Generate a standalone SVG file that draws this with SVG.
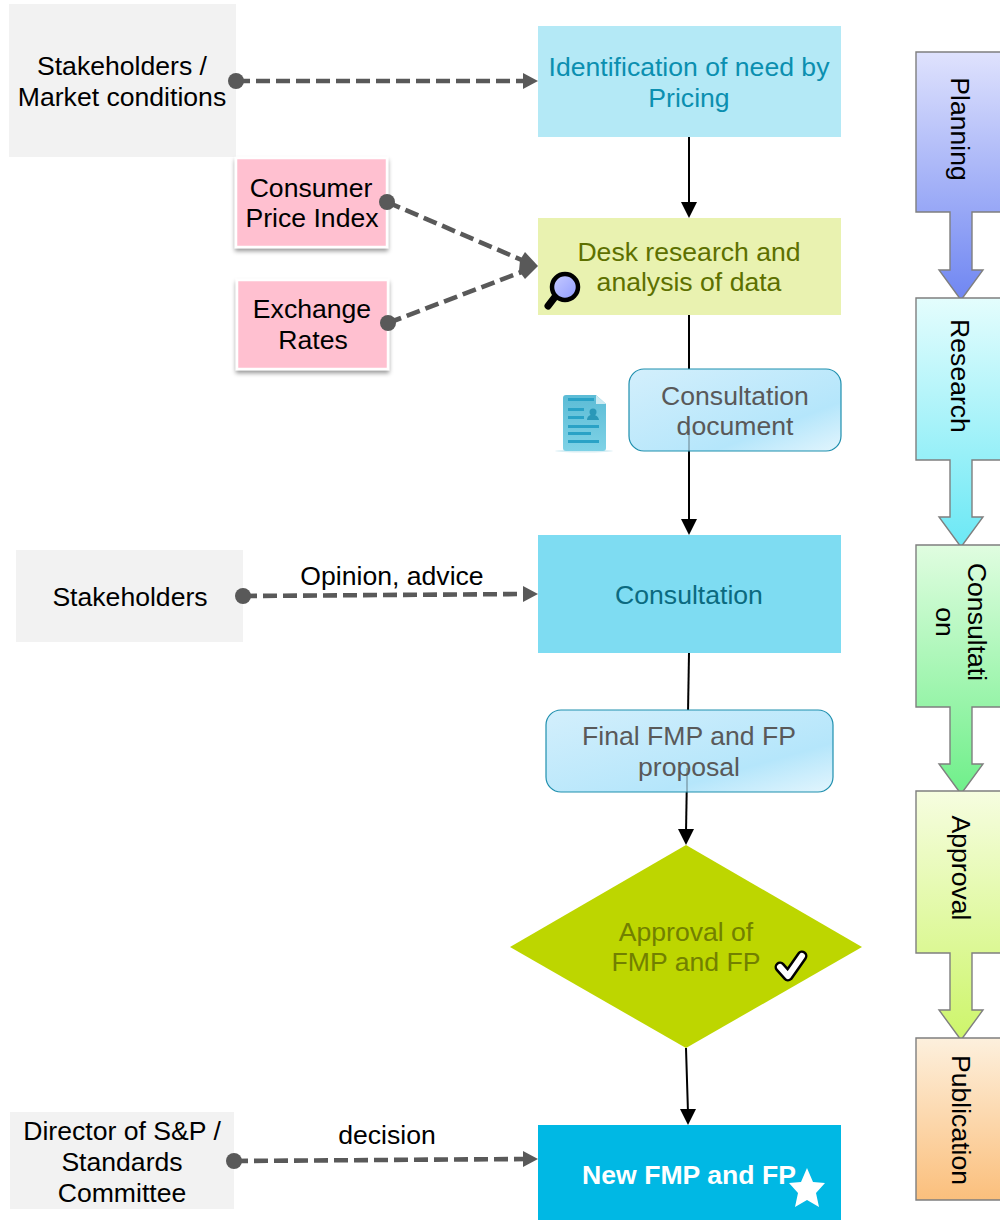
<svg xmlns="http://www.w3.org/2000/svg" width="1000" height="1220" viewBox="0 0 1000 1220">
<style>
text{font-family:"Liberation Sans",Arial,sans-serif;font-size:26.6px;text-anchor:middle;fill:#000}
.grey{fill:#f2f2f2}
.pink{fill:#ffc0d0;stroke:#fff;stroke-width:2.5;filter:url(#sh)}
.dash{fill:none;stroke:#595959;stroke-width:4.6;stroke-dasharray:14 6}
.solid{fill:none;stroke:#000;stroke-width:2}
.doc{stroke:#1f8fae;stroke-width:1.2;fill:url(#docg)}
.side{stroke:#7f7f7f;stroke-width:1.4}
.dot{fill:#595959}
.hd{fill:#595959}
.hb{fill:#000}
.through{stroke:#000;stroke-width:2;opacity:.22}
</style>
<defs>
<filter id="sh" x="-10%" y="-10%" width="120%" height="125%"><feDropShadow dx="0" dy="3" stdDeviation="2" flood-color="#000" flood-opacity="0.4"/></filter>
<linearGradient id="docg" x1="0" y1="0" x2="1" y2="1"><stop offset="0" stop-color="#d3effc"/><stop offset="0.7" stop-color="#b5e6fb"/><stop offset="1" stop-color="#e2f5fd"/></linearGradient>
<linearGradient id="gp" gradientUnits="userSpaceOnUse" x1="0" y1="52" x2="0" y2="300"><stop offset="0" stop-color="#dfe2fd"/><stop offset="1" stop-color="#6f86f2"/></linearGradient>
<linearGradient id="gr" gradientUnits="userSpaceOnUse" x1="0" y1="298" x2="0" y2="547"><stop offset="0" stop-color="#e4fdfd"/><stop offset="1" stop-color="#6be8f5"/></linearGradient>
<linearGradient id="gc" gradientUnits="userSpaceOnUse" x1="0" y1="545" x2="0" y2="793"><stop offset="0" stop-color="#e0fde0"/><stop offset="1" stop-color="#6fef8a"/></linearGradient>
<linearGradient id="ga" gradientUnits="userSpaceOnUse" x1="0" y1="791" x2="0" y2="1040"><stop offset="0" stop-color="#f6fde0"/><stop offset="1" stop-color="#cdf56a"/></linearGradient>
<linearGradient id="gu" x1="0" y1="0" x2="0" y2="1"><stop offset="0" stop-color="#fdf0dd"/><stop offset="1" stop-color="#fbbf7c"/></linearGradient>
<linearGradient id="mg" x1="0" y1="0" x2="1" y2="1"><stop offset="0" stop-color="#c8ccff"/><stop offset="1" stop-color="#8f9bff"/></linearGradient>
<linearGradient id="ic" x1="0" y1="0" x2="0" y2="1"><stop offset="0" stop-color="#5cbcd6"/><stop offset="1" stop-color="#7fd2e6"/></linearGradient>
</defs>

<g id="stakeholders-market"><rect class="grey" x="9" y="4" width="227" height="153"/><text x="122" y="75">Stakeholders /</text><text x="122" y="106">Market conditions</text></g>
<g id="cpi"><rect class="pink" x="236" y="158" width="151" height="89"/><text x="311" y="197">Consumer</text><text x="312" y="227">Price Index</text></g>
<g id="exchange"><rect class="pink" x="237" y="280" width="151" height="89"/><text x="312" y="318">Exchange</text><text x="313" y="349">Rates</text></g>
<g id="stakeholders"><rect class="grey" x="16" y="550" width="227" height="92"/><text x="130" y="606">Stakeholders</text></g>
<g id="director"><rect class="grey" x="10" y="1112" width="224" height="97"/><text x="122" y="1140">Director of S&amp;P /</text><text x="122" y="1171">Standards</text><text x="122" y="1202">Committee</text></g>

<g id="identification"><rect x="538" y="26" width="303" height="111" fill="#b4e9f6"/><text x="689" y="76" style="fill:#0b8fb0">Identification of need by</text><text x="689" y="107" style="fill:#0b8fb0">Pricing</text></g>
<g id="desk"><rect x="538" y="218" width="303" height="97" fill="#e9f2b0"/><text x="689" y="261" style="fill:#5d7000">Desk research and</text><text x="689" y="291" style="fill:#5d7000">analysis of data</text>
<line x1="548" y1="306" x2="558" y2="293" stroke="#000" stroke-width="7" stroke-linecap="round"/><circle cx="565" cy="287" r="13" fill="url(#mg)" stroke="#000" stroke-width="4.5"/></g>

<g id="connectors">
<line class="dash" x1="236" y1="81" x2="526" y2="81"/>
<line class="dash" x1="387" y1="202" x2="524" y2="261"/>
<line class="dash" x1="388" y1="323" x2="524" y2="271"/>
<line class="dash" x1="243" y1="596" x2="526" y2="594"/>
<line class="dash" x1="234" y1="1161" x2="526" y2="1159"/>
<line class="solid" x1="689" y1="137" x2="689" y2="205"/>
<line class="solid" x1="689" y1="315" x2="689" y2="523"/>
<line class="solid" x1="689" y1="653" x2="686" y2="833"/>
<line class="solid" x1="686" y1="1048" x2="688" y2="1113"/>
<circle class="dot" cx="236" cy="81" r="8"/>
<circle class="dot" cx="387" cy="202" r="8"/>
<circle class="dot" cx="388" cy="323" r="8"/>
<circle class="dot" cx="243" cy="596" r="8"/>
<circle class="dot" cx="234" cy="1161" r="8"/>
<polygon class="hd" points="538,81 523,73 523,89"/>
<polygon class="hd" points="538,266 525,252 520,260 519,271 525,279"/>
<polygon class="hd" points="538,594 523,586 523,602"/>
<polygon class="hd" points="538,1159 523,1151 523,1167"/>
<polygon class="hb" points="689,218 681,202 697,202"/>
<polygon class="hb" points="689,535 681,519 697,519"/>
<polygon class="hb" points="686,845 678,829 694,829"/>
<polygon class="hb" points="688,1125 680,1109 696,1109"/>
</g>

<g id="doc-icon"><ellipse cx="584" cy="451" rx="29" ry="1.5" fill="#d8eef4"/><path d="M566 395H596L606 404V448a3 3 0 0 1-3 3H566a3 3 0 0 1-3-3V398a3 3 0 0 1 3-3Z" fill="url(#ic)"/><path d="M596 395L606 404H596Z" fill="#cdeaf2"/>
<g fill="#2aa2c6"><rect x="568" y="398" width="26" height="3"/><rect x="568" y="408" width="16" height="3"/><rect x="568" y="416" width="16" height="3"/><rect x="568" y="425" width="31" height="3"/><rect x="568" y="432" width="23" height="3"/><rect x="568" y="440" width="31" height="3"/></g>
<circle cx="593" cy="412" r="3.5" fill="#2a98b8"/><path d="M587 420c0-7 11-7 12 0Z" fill="#2a98b8"/></g>
<g id="consultation-doc"><rect class="doc" x="629" y="369" width="212" height="82" rx="15"/><line class="through" x1="689" y1="428" x2="689" y2="451"/><text x="735" y="405" style="fill:#595959">Consultation</text><text x="735" y="435" style="fill:#595959">document</text></g>
<g id="consultation"><rect x="538" y="535" width="303" height="118" fill="#7edcf2"/><text x="689" y="604" style="fill:#0b6a80">Consultation</text></g>
<g id="final"><rect class="doc" x="546" y="710" width="287" height="82" rx="15"/><line class="through" x1="687" y1="768" x2="687" y2="792"/><text x="689" y="745" style="fill:#595959">Final FMP and FP</text><text x="689" y="776" style="fill:#595959">proposal</text></g>
<g id="approval"><polygon points="686,845 862,947 686,1048 510,947" fill="#bdd600"/><text x="686" y="941" style="fill:#728000">Approval of</text><text x="686" y="971" style="fill:#728000">FMP and FP</text>
<path d="M780 967L788 976L802 956" fill="none" stroke="#000" stroke-width="11" stroke-linecap="round" stroke-linejoin="round"/><path d="M780 967L788 976L802 956" fill="none" stroke="#fff" stroke-width="6" stroke-linecap="round" stroke-linejoin="round"/></g>
<g id="new"><rect x="538" y="1125" width="303" height="95" fill="#00b8e4"/><text x="689" y="1184" style="fill:#fff;font-weight:bold">New FMP and FP</text>
<polygon points="807,1168 813,1182 825,1183 816,1193 819,1207 807,1200 795,1207 798,1193 789,1183 801,1182" fill="#fff"/></g>

<g id="phase-planning"><path class="side" d="M1001 52H916V212H950V270H939L961 300L983 270H972V212H1001Z" fill="url(#gp)"/><text transform="translate(951,129) rotate(90)">Planning</text></g>
<g id="phase-research"><path class="side" d="M1001 298H916V460H950V517H939L961 547L983 517H972V460H1001Z" fill="url(#gr)"/><text transform="translate(951,376) rotate(90)">Research</text></g>
<g id="phase-consultation"><path class="side" d="M1001 545H916V707H950V764H939L961 794L983 764H972V707H1001Z" fill="url(#gc)"/><text transform="translate(968,622) rotate(90)">Consultati</text><text transform="translate(936,622) rotate(90)">on</text></g>
<g id="phase-approval"><path class="side" d="M1001 791H916V953H950V1010H939L961 1040L983 1010H972V953H1001Z" fill="url(#ga)"/><text transform="translate(952,868) rotate(90)">Approval</text></g>
<g id="phase-publication"><path class="side" d="M1001 1038H916V1200H1001Z" fill="url(#gu)"/><text transform="translate(952,1120) rotate(90)">Publication</text></g>

<g id="labels"><text x="392" y="585">Opinion, advice</text><text x="387" y="1144">decision</text></g>
</svg>
